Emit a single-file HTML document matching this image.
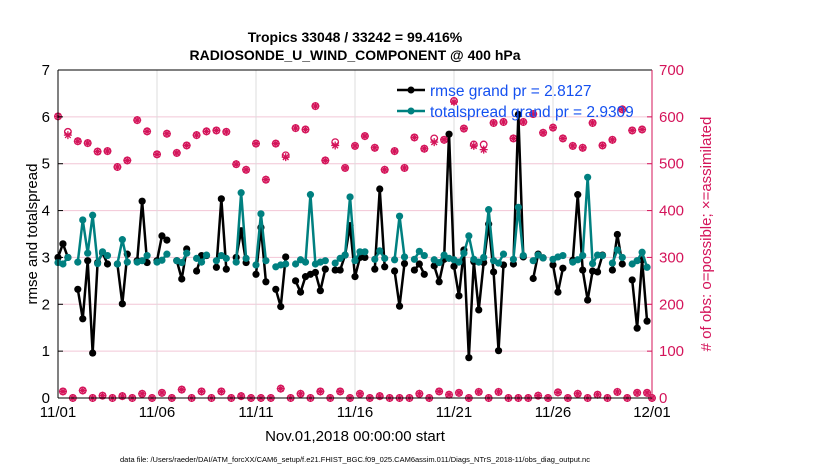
<!DOCTYPE html>
<html><head><meta charset="utf-8"><style>
body{margin:0;background:#fff;}
svg{display:block;font-family:"Liberation Sans",Arial,sans-serif;}
</style></head><body>
<svg id="chart" width="830" height="470" viewBox="0 0 830 470">
<text x="355" y="42" text-anchor="middle" font-size="14" font-weight="bold">Tropics 33048 / 33242 = 99.416%</text>
<text x="355" y="60" text-anchor="middle" font-size="14" font-weight="bold">RADIOSONDE_U_WIND_COMPONENT @ 400 hPa</text>
<g id="grid"></g>
<g id="obs"></g>
<g id="series"></g>
<g id="axes"></g>
<text transform="translate(37,234) rotate(-90)" text-anchor="middle" font-size="15">rmse and totalspread</text>
<text transform="translate(711,234) rotate(-90)" text-anchor="middle" font-size="15" fill="#d4145a"># of obs: o=possible; ×=assimilated</text>
<text x="355" y="441" text-anchor="middle" font-size="15">Nov.01,2018 00:00:00 start</text>
<text x="355" y="462" text-anchor="middle" font-size="7.5">data file: /Users/raeder/DAI/ATM_forcXX/CAM6_setup/f.e21.FHIST_BGC.f09_025.CAM6assim.011/Diags_NTrS_2018-11/obs_diag_output.nc</text>
<g>
<line x1="397" y1="90" x2="425" y2="90" stroke="#000" stroke-width="2.5"/>
<circle cx="411" cy="90" r="3.5" fill="#000"/>
<text x="430" y="96" font-size="15.5" fill="#1450f0">rmse grand pr = 2.8127</text>
<line x1="397" y1="111" x2="425" y2="111" stroke="#008080" stroke-width="2.5"/>
<circle cx="411" cy="111" r="3.5" fill="#008080"/>
<text x="430" y="117" font-size="15.5" fill="#1450f0">totalspread grand pr = 2.9309</text>
</g>
</svg>
<script>
const N=null;
const xTickLabels=["11/01","11/06","11/11","11/16","11/21","11/26","12/01"];
const xTickDays=[0,5,10,15,20,25,30];
const yTicksLeft=[0,1,2,3,4,5,6,7];
const yTicksRight=[0,100,200,300,400,500,600,700];
const rmse=[3.0,3.29,3.0,N,2.32,1.69,2.93,0.96,2.89,3.1,2.86,N,2.86,2.01,3.07,N,2.93,4.2,2.89,N,
2.93,3.46,3.37,N,2.93,2.54,3.18,N,2.71,3.04,3.04,N,2.79,4.25,2.75,N,3.0,3.57,2.89,N,
2.64,3.64,2.48,N,2.32,1.95,3.01,N,2.5,2.26,2.59,2.64,2.68,2.29,2.75,N,2.73,2.73,3.05,3.68,
2.59,3.0,3.0,N,2.75,4.46,2.8,N,2.71,1.96,2.87,N,2.73,2.86,2.64,N,2.82,2.48,2.96,5.63,
2.81,2.18,3.16,0.86,2.91,1.88,2.89,3.71,2.69,1.01,2.84,N,2.86,6.05,3.01,N,2.55,3.07,2.99,N,
2.84,2.26,2.77,N,2.94,4.34,2.73,2.09,2.71,2.69,3.05,N,2.73,3.49,2.86,N,2.52,1.49,2.95,1.64,N];
const spread=[2.89,2.86,3.0,N,2.9,3.8,3.09,3.9,2.87,3.12,3.04,N,2.86,3.38,2.9,N,2.9,2.93,3.04,N,
2.9,2.94,3.07,N,2.93,2.89,3.09,N,2.98,2.9,3.05,N,2.93,3.04,2.98,N,2.9,4.38,2.98,N,
2.84,3.93,2.93,N,2.8,2.84,2.86,N,2.86,2.95,2.9,4.34,2.86,2.9,2.93,N,2.88,2.98,3.05,4.29,
2.93,3.12,3.12,N,2.96,3.14,2.98,N,2.95,3.88,3.01,N,2.96,3.13,3.04,N,2.95,2.89,3.05,2.98,
2.95,2.9,3.09,3.46,2.96,2.9,3.0,4.02,2.93,2.88,3.07,N,2.96,4.07,3.04,N,2.93,3.05,2.99,N,
2.96,3.01,3.04,N,2.9,2.95,3.04,4.71,2.87,3.05,3.04,N,2.88,3.16,3.0,N,2.86,2.93,3.11,2.79,N];
const obsPossible=[601,14,568,0,548,16,544,0,526,5,527,0,493,4,507,0,593,9,569,0,
520,11,564,0,523,18,539,0,561,14,569,0,571,14,568,0,499,4,487,0,
543,0,466,0,543,20,518,0,576,9,573,0,623,14,507,0,546,14,491,0,
538,9,559,0,534,4,487,0,527,0,491,0,556,9,532,0,554,14,551,7,
634,11,575,0,541,13,541,0,587,13,589,0,554,0,589,0,606,5,566,0,
577,12,554,0,538,9,534,0,587,7,539,0,551,13,616,0,571,11,573,11,0];
const obsAssim=[601,14,561,0,548,16,544,0,526,5,527,0,493,4,507,0,593,9,569,0,
520,11,564,0,523,18,539,0,561,14,569,0,571,14,568,0,499,4,487,0,
543,0,466,0,543,20,514,0,576,9,573,0,623,14,507,0,539,14,491,0,
538,9,559,0,534,4,487,0,527,0,491,0,556,9,532,0,546,14,551,7,
632,11,575,0,538,13,530,0,587,13,589,0,554,0,589,0,606,5,566,0,
577,12,554,0,538,9,534,0,587,7,539,0,551,13,616,0,571,11,573,11,0];

const NS="http://www.w3.org/2000/svg";
const X0=58,X1=652,Y0=398,Y1=70;
function xDay(d){return X0+(X1-X0)*d/30;}
function xIdx(i){return xDay(i/4);}
function yL(v){return Y0-(Y0-Y1)*v/7;}
function yR(v){return Y0-(Y0-Y1)*v/700;}
function mk(tag,attrs,parent){const e=document.createElementNS(NS,tag);for(const k in attrs)e.setAttribute(k,attrs[k]);parent.appendChild(e);return e;}
const grid=document.getElementById('grid'),axes=document.getElementById('axes'),ser=document.getElementById('series'),obs=document.getElementById('obs');
mk('rect',{x:X0,y:Y1,width:X1-X0,height:Y0-Y1,fill:'#fff'},grid);
yTicksLeft.forEach(v=>{
  const l=mk('line',{x1:X0,x2:X1,y1:yL(v),y2:yL(v),stroke:'#f2c6d6','stroke-width':1},grid);
  
  
  const t=mk('text',{x:X0-8,y:yL(v)+5,'text-anchor':'end','font-size':15},axes);t.textContent=v;
  
  
  mk('line',{x1:X0,x2:X0+5,y1:yL(v),y2:yL(v),stroke:'#000'},axes);
});
yTicksRight.forEach(v=>{
  const t=mk('text',{x:X1+7,y:yR(v)+5,'font-size':15,fill:'#d4145a'},axes);t.textContent=v;
  
  
  mk('line',{x1:X1-5,x2:X1,y1:yR(v),y2:yR(v),stroke:'#d4145a'},axes);
});
xTickDays.forEach((d,k)=>{
  const l=mk('line',{x1:xDay(d),x2:xDay(d),y1:Y1,y2:Y0,stroke:'#dcdcdc','stroke-width':1},grid);
  
  
  const t=mk('text',{x:xDay(d),y:Y0+19,'text-anchor':'middle','font-size':15},axes);t.textContent=xTickLabels[k];
  
  
});
mk('line',{x1:X0,x2:X0,y1:Y1,y2:Y0,stroke:'#000'},axes);
mk('line',{x1:X0,x2:X1,y1:Y0,y2:Y0,stroke:'#000'},axes);
mk('line',{x1:X0,x2:X1,y1:Y1,y2:Y1,stroke:'#000'},axes);
mk('line',{x1:X1,x2:X1,y1:Y1,y2:Y0,stroke:'#d4145a'},axes);

function star(cx,cy,r,g){const p=[];for(let a=0;a<4;a++){const t=a*Math.PI/4;p.push(`M${cx-r*Math.cos(t)},${cy-r*Math.sin(t)}L${cx+r*Math.cos(t)},${cy+r*Math.sin(t)}`);}return mk('path',{d:p.join(''),stroke:'#d4145a','stroke-width':1.3,fill:'none'},g);}
obsPossible.forEach((v,i)=>{
  const c=mk('circle',{cx:xIdx(i),cy:yR(v),r:3.3,fill:'none',stroke:'#d4145a','stroke-width':1.3},obs);
  
  
});
obsAssim.forEach((v,i)=>{
  const s=star(xIdx(i),yR(v),4,obs);
  
  
});

function drawSeries(arr,color,name){
  let d='',pen=false;
  arr.forEach((v,i)=>{if(v===null){pen=false;return;}d+=(pen?'L':'M')+xIdx(i)+','+yL(v);pen=true;});
  const p=mk('path',{d:d,stroke:color,'stroke-width':2.5,fill:'none','stroke-linejoin':'round'},ser);
  
  
  arr.forEach((v,i)=>{if(v===null)return;
    const c=mk('circle',{cx:xIdx(i),cy:yL(v),r:3.6,fill:color},ser);
    
    
  });
}
drawSeries(rmse,'#000','rmse');
drawSeries(spread,'#008080','totalspread');
</script>
</body></html>
